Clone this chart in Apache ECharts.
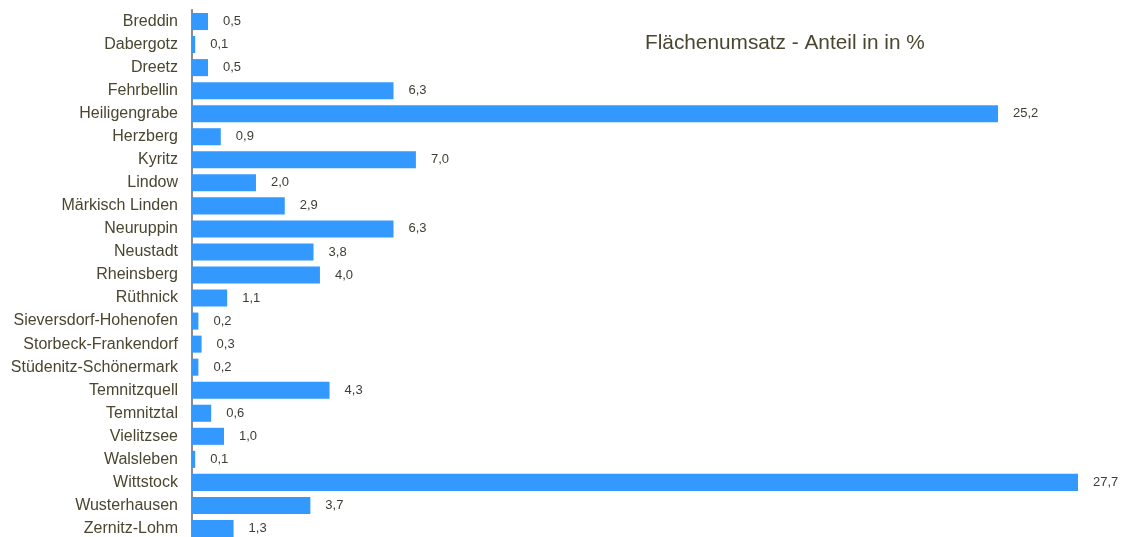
<!DOCTYPE html>
<html>
<head>
<meta charset="utf-8">
<script src="https://cdn.jsdelivr.net/npm/echarts@6/dist/echarts.min.js"></script>
<style>html,body{margin:0;padding:0;background:#fff}#c{width:1121px;height:537px}</style>
</head>
<body>
<div id="c"></div>
<script>
const categories = ['Breddin','Dabergotz','Dreetz','Fehrbellin','Heiligengrabe','Herzberg','Kyritz','Lindow','Märkisch Linden','Neuruppin','Neustadt','Rheinsberg','Rüthnick','Sieversdorf-Hohenofen','Storbeck-Frankendorf','Stüdenitz-Schönermark','Temnitzquell','Temnitztal','Vielitzsee','Walsleben','Wittstock','Wusterhausen','Zernitz-Lohm'];
const values = [0.5,0.1,0.5,6.3,25.2,0.9,7.0,2.0,2.9,6.3,3.8,4.0,1.1,0.2,0.3,0.2,4.3,0.6,1.0,0.1,27.7,3.7,1.3];
const titleText = 'Flächenumsatz - Anteil in in %';

const chart = echarts.init(document.getElementById('c'), null, {renderer:'canvas'});
chart.setOption({
  animation: false,
  title: {
    text: titleText,
    left: 640, top: 28,
    textStyle: {fontFamily: 'Liberation Sans, Arial, sans-serif', fontSize: 20.8, fontWeight: 'normal', color: '#4a4630'}
  },
  grid: {left: 192, right: 43, top: 10, bottom: -3, outerBoundsMode: 'none'},
  xAxis: {type: 'value', min: 0, max: 27.7, show: false},
  yAxis: {
    type: 'category', data: categories, inverse: true,
    axisLine: {show: true, lineStyle: {color: '#8c8c8c', width: 2}},
    axisTick: {show: false},
    axisLabel: {margin: 14, fontFamily: 'Liberation Sans, Arial, sans-serif', fontSize: 16, color: '#4a4630'}
  },
  series: [{
    type: 'bar', data: values, barWidth: '74%',
    itemStyle: {color: '#3399ff'},
    label: {
      show: true, position: 'right', distance: 15,
      fontFamily: 'Liberation Sans, Arial, sans-serif', fontSize: 13, color: '#3d3d33',
      formatter: p => p.value.toFixed(1).replace('.', ',')
    }
  }]
});
</script>
</body>
</html>
